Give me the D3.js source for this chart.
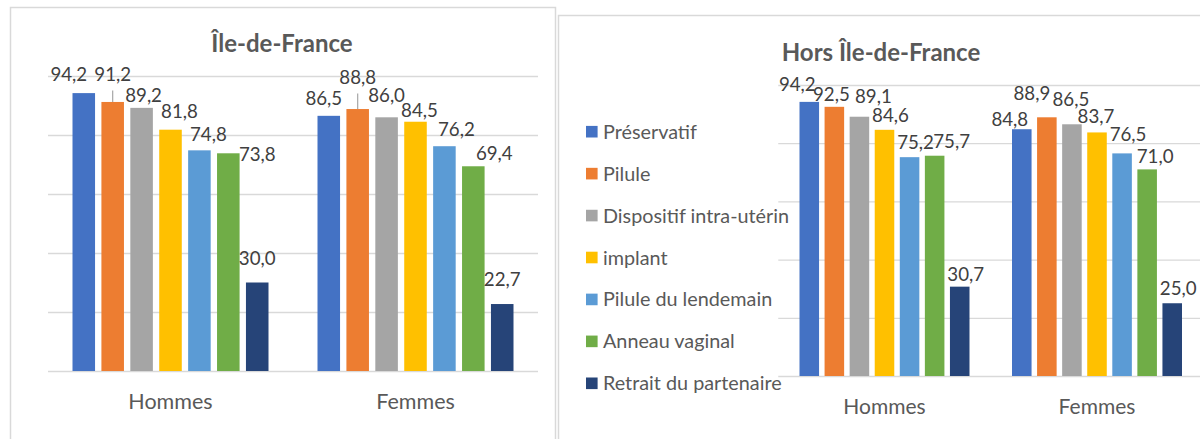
<!DOCTYPE html>
<html>
<head>
<meta charset="utf-8">
<script src="https://cdn.jsdelivr.net/npm/d3@7"></script>
<style>
  body { margin: 0; background: #fff; }
  svg { display: block; font-family: Lato, "Open Sans", sans-serif; }
</style>
</head>
<body>
<svg id="canvas" width="1200" height="439"></svg>
<script>
"use strict";

const series = ["Préservatif", "Pilule", "Dispositif intra-utérin", "implant", "Pilule du lendemain", "Anneau vaginal", "Retrait du partenaire"];
const categories = ["Hommes", "Femmes"];
const colors = ["#4472C4", "#ED7D31", "#A5A5A5", "#FFC000", "#5B9BD5", "#70AD47", "#264478"];
const yTicks = [0, 20, 40, 60, 80, 100];

// valeurs
const idfHommes = [94.2, 91.2, 89.2, 81.8, 74.8, 73.8, 30.0];
const idfFemmes = [86.5, 88.8, 86.0, 84.5, 76.2, 69.4, 22.7];
const horsHommes = [94.2, 92.5, 89.1, 84.6, 75.2, 75.7, 30.7];
const horsFemmes = [84.8, 88.9, 86.5, 83.7, 76.5, 71.0, 25.0];

// décalages des étiquettes (placées à la main dans l'original) : [dx, dy, ligne de rappel]
const idfNudge = [
    [[-15, -12], [0, -21, true], [2, -6], [9, -12], [9, -9], [29, 8], [0, -18]],
    [[-5, -11], [0, -25, true], [0, -15], [4, -5], [12, -10], [21, -6], [0, -18]]
];
const horsNudge = [
    [[-12, -11], [-3, -6], [14, -14], [6, -8], [6, -8], [17, -8], [6, -6]],
    [[-12, -3], [-15, -17], [-1, -18], [-1, -9], [6, -12], [8, -6], [6, -8]]
];

const frLocale = d3.formatLocale({ decimal: ",", thousands: " ", grouping: [3], currency: ["", " €"] });
const fmt = frLocale.format(".1f");

const canvas = d3.select('#canvas');

const drawPanel = (cfg) => {
    const g = canvas.append('g');

    // cadre du graphique
    g.append('rect')
        .attr('x', cfg.box[0] + 0.5).attr('y', cfg.box[1] + 0.5)
        .attr('width', cfg.box[2]).attr('height', cfg.box[3])
        .attr('fill', 'none').attr('stroke', '#D9D9D9').attr('stroke-width', 1.5);

    g.append('text')
        .attr('x', cfg.titleX).attr('y', cfg.titleY)
        .attr('text-anchor', 'middle')
        .attr('font-weight', 'bold').attr('font-size', 24)
        .attr('fill', '#595959')
        .text(cfg.title);

    const x0 = d3.scaleBand().domain(categories).range(cfg.xRange).paddingInner(0.2).paddingOuter(0.1);
    const x1 = d3.scaleBand().domain(series).range([0, x0.bandwidth()]).paddingInner(0.22);
    const y = d3.scaleLinear().domain([0, 100]).range(cfg.yRange);

    const grid = d3.axisLeft(y).tickValues(yTicks).tickSize(-(cfg.xRange[1] - cfg.xRange[0])).tickFormat('');
    g.append('g')
        .attr('transform', `translate(${cfg.xRange[0]},0)`)
        .call(grid)
        .call(a => a.select('.domain').remove())
        .call(a => a.selectAll('.tick line').attr('stroke', '#D9D9D9').attr('stroke-width', 1.3));

    const rows = categories.map((c, i) => ({ cat: c, values: cfg.values[i], nudge: cfg.nudge[i] }));

    const groups = g.selectAll('g.cat')
        .data(rows)
        .enter()
        .append('g')
        .attr('class', 'cat')
        .attr('transform', d => `translate(${x0(d.cat)},0)`);

    const items = groups.selectAll('g.bar')
        .data(d => d.values.map((v, i) => ({ name: series[i], value: v, color: colors[i], nudge: d.nudge[i] })))
        .enter()
        .append('g')
        .attr('class', 'bar');

    items.append('rect')
        .attr('x', d => x1(d.name))
        .attr('y', d => y(d.value))
        .attr('width', x1.bandwidth())
        .attr('height', d => y(0) - y(d.value))
        .attr('fill', d => d.color);

    items.filter(d => d.nudge[2])
        .append('line')
        .attr('x1', d => x1(d.name) + x1.bandwidth() / 2)
        .attr('x2', d => x1(d.name) + x1.bandwidth() / 2)
        .attr('y1', d => y(d.value) + d.nudge[1] + 9.5)
        .attr('y2', d => y(d.value))
        .attr('stroke', '#A6A6A6').attr('stroke-width', 1.2);

    items.append('text')
        .attr('x', d => x1(d.name) + x1.bandwidth() / 2 + d.nudge[0])
        .attr('y', d => y(d.value) + d.nudge[1])
        .attr('text-anchor', 'middle')
        .attr('font-size', 18.7)
        .attr('fill', '#404040')
        .text(d => fmt(d.value));

    // libellés des catégories
    g.selectAll('text.cat')
        .data(categories)
        .enter()
        .append('text')
        .attr('class', 'cat')
        .attr('x', d => x0(d) + x0.bandwidth() / 2)
        .attr('y', cfg.catY)
        .attr('text-anchor', 'middle')
        .attr('font-size', cfg.catSize)
        .attr('fill', '#595959')
        .text(d => d);
};

drawPanel({
    box: [10, 7, 545, 450],
    title: "Île-de-France", titleX: 282, titleY: 52,
    xRange: [48, 538], yRange: [371, 76], catY: 409, catSize: 21.5,
    values: [idfHommes, idfFemmes], nudge: idfNudge
});

drawPanel({
    box: [558, 15, 660, 450],
    title: "Hors Île-de-France", titleX: 881, titleY: 60.5,
    xRange: [778.25, 1203.25], yRange: [376, 85], catY: 414, catSize: 21,
    values: [horsHommes, horsFemmes], nudge: horsNudge
});

// légende
const ly = d3.scalePoint().domain(series).range([131.7, 383.3]);
const legend = canvas.append('g')
    .selectAll('g')
    .data(series)
    .enter()
    .append('g')
    .attr('transform', d => `translate(586,${ly(d)})`);

legend.append('rect')
    .attr('x', 0).attr('y', -5.8)
    .attr('width', 11.6).attr('height', 11.6)
    .attr('fill', (d, i) => colors[i]);

legend.append('text')
    .attr('x', 17).attr('y', 7)
    .attr('font-size', 19.8)
    .attr('fill', '#595959')
    .text(d => d);
</script>
</body>
</html>
